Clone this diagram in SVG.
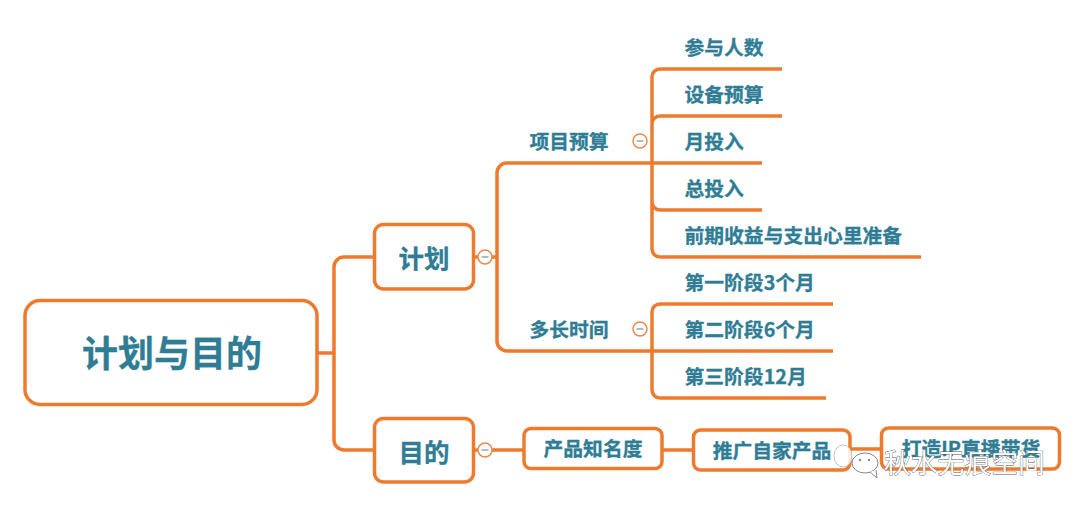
<svg xmlns="http://www.w3.org/2000/svg" width="1080" height="510" viewBox="0 0 1080 510">
<style>
.n{fill:#fff;stroke:#ee7a2d;stroke-width:3.5}
.c{fill:none;stroke:#ee7a2d;stroke-width:3.5}
.o{fill:#fff;stroke:#e98a4c;stroke-width:1.5}
.m{stroke:#7f8fa0;stroke-width:1.2}
text{font-family:"Noto Sans CJK SC","Noto Sans",sans-serif;font-weight:700;fill:#2f7d95;stroke:#2f7d95;stroke-width:.3;font-size:19.8px;dominant-baseline:central}
.mid{text-anchor:middle}
.wm{font-size:26.8px;font-weight:400;fill:#fff;stroke:#55585c;stroke-width:.8;paint-order:stroke}
</style>
<rect width="1080" height="510" fill="#fff"/>
<g id="connectors">
<path class="c" d="M317 353H334M374 257H344a10 10 0 0 0-10 10V440a10 10 0 0 0 10 10H374"/>
<path class="c" d="M474 257H497M762 163H507a10 10 0 0 0-10 10V341a10 10 0 0 0 10 10H833"/>
<path class="c" d="M782 69H660a8 8 0 0 0-8 8V249a8 8 0 0 0 8 8H921M652 124a8 8 0 0 1 8-8H782M652 202a8 8 0 0 0 8 8H762"/>
<path class="c" d="M833 304H660a8 8 0 0 0-8 8V390a8 8 0 0 0 8 8H826"/>
<path class="c" d="M474 450H523M662 450H693M850 449H881"/>
</g>
<g id="root"><rect class="n" x="25" y="300.500" width="292" height="104" rx="15"/><text class="mid" x="172" y="351" style="font-size:36px">计划与目的</text></g>
<g id="plan"><rect class="n" x="374.500" y="224.500" width="99" height="64.500" rx="9"/><text class="mid" x="424" y="256" style="font-size:25.500px">计划</text></g>
<g id="plan-toggle"><circle class="o" cx="485" cy="257" r="7"/><path class="m" d="M481.500 257H488.500"/></g>
<g id="goal"><rect class="n" x="374.500" y="418.500" width="99" height="63.500" rx="9"/><text class="mid" x="424" y="450" style="font-size:25.500px">目的</text></g>
<g id="goal-toggle"><circle class="o" cx="485" cy="450" r="7"/><path class="m" d="M481.500 450H488.500"/></g>
<g id="budget"><text x="529.500" y="140">项目预算</text></g>
<g id="budget-toggle"><circle class="o" cx="640" cy="141" r="7"/><path class="m" d="M636.500 141H643.500"/></g>
<g id="duration"><text x="529.500" y="328">多长时间</text></g>
<g id="duration-toggle"><circle class="o" cx="640" cy="329" r="7"/><path class="m" d="M636.500 329H643.500"/></g>
<g id="b1"><text x="684.500" y="46">参与人数</text></g>
<g id="b2"><text x="684.500" y="93">设备预算</text></g>
<g id="b3"><text x="684.500" y="140">月投入</text></g>
<g id="b4"><text x="684.500" y="187">总投入</text></g>
<g id="b5"><text x="684.500" y="234">前期收益与支出心里准备</text></g>
<g id="d1"><text x="684.500" y="281">第一阶段3个月</text></g>
<g id="d2"><text x="684.500" y="328">第二阶段6个月</text></g>
<g id="d3"><text x="684.500" y="375">第三阶段12月</text></g>
<g id="g1"><rect class="n" x="524" y="428.500" width="138" height="40" rx="7"/><text class="mid" x="593" y="447.500">产品知名度</text></g>
<g id="g2"><rect class="n" x="693.500" y="430" width="156.500" height="40" rx="7"/><text class="mid" x="772" y="449.500">推广自家产品</text></g>
<g id="g3"><rect class="n" x="881.500" y="428" width="178" height="41" rx="7"/><text class="mid" x="971" y="447">打造IP直播带货</text></g>
<g id="watermark">
<ellipse cx="843" cy="456" rx="9" ry="11" fill="#fff" fill-opacity=".85" stroke="#c4c4c4" stroke-width="1"/>
<ellipse cx="865" cy="463" rx="13" ry="10" fill="#fff" fill-opacity=".9" stroke="#8a8a8a" stroke-width="1"/>
<path d="M870 472l7 6-1-8" fill="#fff" stroke="#8a8a8a" stroke-width="1"/>
<circle cx="860" cy="460" r="1.200" fill="#888"/><circle cx="869" cy="460" r="1.200" fill="#888"/>
<text class="wm" x="884" y="461">秋水无痕空间</text>
</g>
</svg>
